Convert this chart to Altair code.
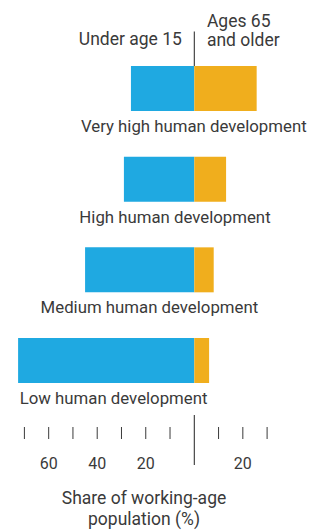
import altair as alt
import pandas as pd

# ---- data ----
categories = [
    "Very high human development",
    "High human development",
    "Medium human development",
    "Low human development",
]
under_15 = [26.1, 29.0, 45.0, 72.6]   # % of working-age population (left side)
ages_65 = [25.7, 13.1, 8.0, 6.1]      # % of working-age population (right side)
tick_values = [-70, -60, -50, -40, -30, -20, -10, 10, 20, 30]
tick_labels = ["", "60", "", "40", "", "20", "", "", "20", ""]
header_left = ["Under age 15"]
header_right = ["Ages 65", "and older"]
axis_title = ["Share of working-age", "population (%)"]

df = pd.DataFrame({"category": categories, "under": under_15, "older": ages_65})
ticks_df = pd.DataFrame({"v": tick_values, "lab": tick_labels})

FONT = "Roboto, sans-serif"
FS = 17.5
FS_CAT = 16.8
BLUE = "#1FA9E1"
ORANGE = "#F0AE1D"
TEXT = "#3a3a3a"

x_scale = alt.Scale(domain=[-76.76, 46.44], nice=False, zero=False)
y_scale = alt.Scale(domain=categories, range=[58, 375], paddingInner=0.504, paddingOuter=0)

base = alt.Chart(df).transform_calculate(
    neg="-datum.under", mid="(datum.older - datum.under) / 2", z="0"
)

y_enc = alt.Y("category:N", scale=y_scale, axis=None, sort=categories)

left = base.mark_bar(color=BLUE).encode(
    x=alt.X(
        "neg:Q",
        scale=x_scale,
        axis=alt.Axis(
            domain=False,
            grid=False,
            ticks=False,
            labels=False,
            title=axis_title,
            titleFont=FONT,
            titleFontSize=FS,
            titleFontWeight="normal",
            titleColor=TEXT,
            titleX=135.5,
            titleY=76,
            titleAlign="center",
            titleBaseline="alphabetic",
            titleLineHeight=21.5,
        ),
    ),
    x2=alt.X2("z:Q"),
    y=y_enc,
)

right = base.mark_bar(color=ORANGE).encode(
    x=alt.X("older:Q", scale=x_scale),
    x2=alt.X2("z:Q"),
    y=y_enc,
)

labels = base.mark_text(
    font=FONT, fontSize=FS_CAT, color=TEXT, align="center", baseline="alphabetic", dy=43.5
).encode(
    x=alt.X("mid:Q", scale=x_scale),
    y=y_enc,
    text="category:N",
)

first_only = "datum.category == '" + categories[0] + "'"

rule_top = base.transform_filter(first_only).mark_rule(color="#222222", strokeWidth=1).encode(
    x=alt.X("z:Q", scale=x_scale),
    y=alt.value(23.5),
    y2=alt.value(58),
)

rule_bottom = base.transform_filter(first_only).mark_rule(color="#222222", strokeWidth=1).encode(
    x=alt.X("z:Q", scale=x_scale),
    y=alt.value(407),
    y2=alt.value(457),
)

tick_marks = alt.Chart(ticks_df).mark_rule(color=TEXT, strokeWidth=1).encode(
    x=alt.X("v:Q", scale=x_scale),
    y=alt.value(419),
    y2=alt.value(431),
)

tick_text = alt.Chart(ticks_df).mark_text(
    font=FONT, fontSize=16, color=TEXT, align="center", baseline="alphabetic"
).encode(
    x=alt.X("v:Q", scale=x_scale),
    y=alt.value(461),
    text="lab:N",
)

head_l = alt.Chart(pd.DataFrame({"t": header_left, "x": [-5.1]})).mark_text(
    font=FONT, fontSize=FS, color=TEXT, align="right", baseline="alphabetic"
).encode(x=alt.X("x:Q", scale=x_scale), y=alt.value(37), text="t:N")

head_r = alt.Chart(pd.DataFrame({"x": [5.2]})).mark_text(
    font=FONT, fontSize=FS, color=TEXT, align="left", baseline="alphabetic",
    text=header_right, lineHeight=19,
).encode(x=alt.X("x:Q", scale=x_scale), y=alt.value(18.5))

chart = alt.layer(
    left, right, labels, rule_top, rule_bottom, tick_marks, tick_text, head_l, head_r
).properties(
    width=299,
    height=419,
    autosize="none",
    padding={"left": 0, "right": 0, "top": 0, "bottom": 104},
).configure_view(stroke=None)

chart.save("out.html", embed_options={"renderer": "svg", "actions": False})
